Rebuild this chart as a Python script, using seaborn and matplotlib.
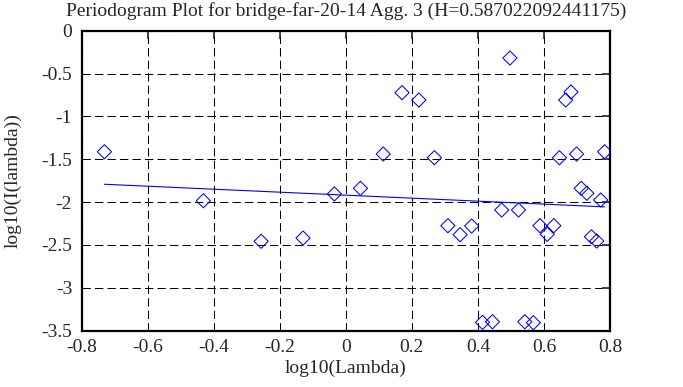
"""
Periodogram plot (gnuplot look) for bridge-far-20-14 Agg. 3
"""

import matplotlib
matplotlib.use("Agg")
import matplotlib.pyplot as plt
import seaborn as sns

sns.set_style("white")
plt.rcParams["font.family"] = ["Liberation Serif", "DejaVu Serif"]
plt.rcParams["font.size"] = 14
plt.rcParams["axes.unicode_minus"] = False

# periodogram points: log10(lambda) vs log10(I(lambda))
log_lambda = [
    -0.732, -0.432, -0.257, -0.130, -0.035, 0.044, 0.113, 0.170, 0.221, 0.268,
    0.309, 0.346, 0.381, 0.414, 0.444, 0.472, 0.497, 0.523, 0.542, 0.568,
    0.588, 0.610, 0.630, 0.647, 0.666, 0.682, 0.699, 0.713, 0.730, 0.744,
    0.760, 0.772, 0.784,
]
log_intensity = [
    -1.412, -1.984, -2.457, -2.419, -1.905, -1.839, -1.439, -0.723, -0.809, -1.482,
    -2.275, -2.380, -2.279, -3.403, -3.396, -2.092, -0.319, -2.092, -3.396, -3.407,
    -2.275, -2.376, -2.275, -1.482, -0.809, -0.715, -1.439, -1.839, -1.897, -2.404,
    -2.454, -1.975, -1.412,
]

# least squares fit, H = (1 - slope) / 2
fit_slope = -0.174
fit_intercept = -1.919
hurst = 0.587022092441175

x_ticks = [-0.8, -0.6, -0.4, -0.2, 0, 0.2, 0.4, 0.6, 0.8]
x_tick_labels = ["-0.8", "-0.6", "-0.4", "-0.2", "0", "0.2", "0.4", "0.6", "0.8"]
y_ticks = [0, -0.5, -1, -1.5, -2, -2.5, -3, -3.5]
y_tick_labels = ["0", "-0.5", "-1", "-1.5", "-2", "-2.5", "-3", "-3.5"]

fig = plt.figure(figsize=(6.83, 3.87), dpi=100)
ax = fig.add_axes([0.120, 0.1455, 0.773, 0.7752])

sns.scatterplot(
    x=log_lambda, y=log_intensity, ax=ax,
    marker="D", s=52, facecolors="none", edgecolors="blue", linewidth=0.75,
    zorder=3,
)

fit_x = [min(log_lambda), max(log_lambda)]
fit_y = [fit_intercept + fit_slope * v for v in fit_x]
sns.lineplot(x=fit_x, y=fit_y, ax=ax, color="blue", linewidth=0.8, zorder=2)

ax.set_xlim(-0.8, 0.8)
ax.set_ylim(-3.5, 0)
ax.set_xticks(x_ticks)
ax.set_xticklabels(x_tick_labels)
ax.set_yticks(y_ticks)
ax.set_yticklabels(y_tick_labels)

ax.grid(True, color="black", linestyle=(0, (8, 4)), linewidth=0.75)
ax.tick_params(direction="in", length=6, width=1.2, top=True, right=True,
               labelsize=14)
ax.tick_params(axis="y", pad=7)
ax.tick_params(axis="x", pad=6)
for spine in ax.spines.values():
    spine.set_linewidth(1.6)
    spine.set_color("black")

ax.set_xlabel("log10(Lambda)", fontsize=14)
ax.set_ylabel("log10(I(lambda))", fontsize=14)
ax.xaxis.set_label_coords(0.5, -0.098)
ax.yaxis.set_label_coords(-0.114, 0.5)

fig.text(346 / 683, 1 - 11 / 387,
         f"Periodogram Plot for bridge-far-20-14 Agg. 3 (H={hurst})",
         ha="center", va="center", fontsize=14)

fig.savefig("out.png", dpi=100)
plt.close(fig)
